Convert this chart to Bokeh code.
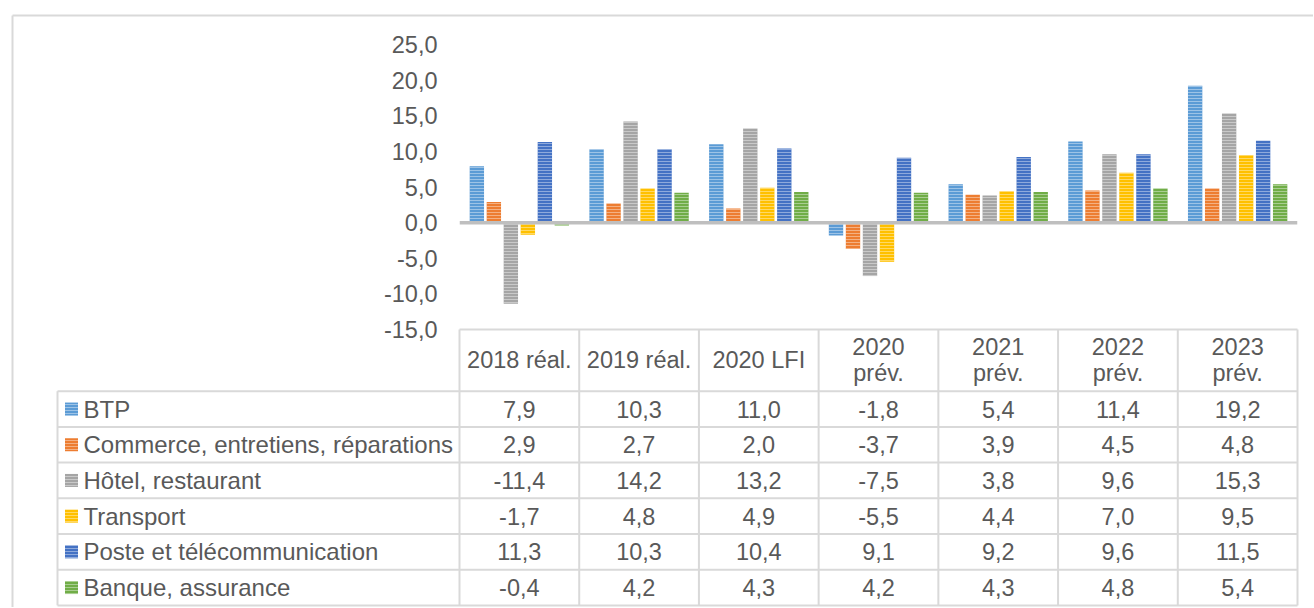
from bokeh.plotting import figure
from bokeh.models import (Range1d, Span, FixedTicker,
                          CustomJSTickFormatter, ColumnDataSource)
from bokeh.transform import dodge
from bokeh.core.properties import value
from bokeh.embed import file_html
from bokeh.resources import INLINE

# ---------------- data ----------------
categories = ["2018 réal.", "2019 réal.", "2020 LFI", "2020 prév.",
              "2021 prév.", "2022 prév.", "2023 prév."]
header_labels = ["2018 réal.", "2019 réal.", "2020 LFI", "2020\nprév.",
                 "2021\nprév.", "2022\nprév.", "2023\nprév."]
series_names = ["BTP", "Commerce, entretiens, réparations", "Hôtel, restaurant",
                "Transport", "Poste et télécommunication", "Banque, assurance"]
btp = [7.9, 10.3, 11.0, -1.8, 5.4, 11.4, 19.2]
commerce = [2.9, 2.7, 2.0, -3.7, 3.9, 4.5, 4.8]
hotel = [-11.4, 14.2, 13.2, -7.5, 3.8, 9.6, 15.3]
transport = [-1.7, 4.8, 4.9, -5.5, 4.4, 7.0, 9.5]
poste = [11.3, 10.3, 10.4, 9.1, 9.2, 9.6, 11.5]
banque = [-0.4, 4.2, 4.3, 4.2, 4.3, 4.8, 5.4]
y_ticks = [-15, -10, -5, 0, 5, 10, 15, 20, 25]

series_values = [btp, commerce, hotel, transport, poste, banque]
colors = ["#5B9BD5", "#ED7D31", "#A5A5A5", "#FFC000", "#4472C4", "#70AD47"]

# ---------------- style / layout (page pixels) ----------------
FONT = "Liberation Sans"
TXT = "#595959"
FS = "23.5px"
FS_LEG = "24px"
GRID = "#D9D9D9"

FIG_W, FIG_H = 1313, 607
FRAME_L, FRAME_R = 459, 1297
FRAME_T, FRAME_B = 44, 607
Y_MAX, Y_MIN_AXIS = 25, -15
AXIS_B = 329                      # page y of value -15 (= table top)
px_per_unit = (AXIS_B - FRAME_T) / (Y_MAX - Y_MIN_AXIS)
Y_BOTTOM = Y_MAX - (FRAME_B - FRAME_T) / px_per_unit

BAR_W = 0.12
STEP = 0.142

HATCH = dict(hatch_pattern="horizontal_line", hatch_color="white",
             hatch_alpha=0.4, hatch_scale=3, hatch_weight=1)

n = len(categories)
p = figure(width=FIG_W, height=FIG_H,
           x_range=Range1d(0, n), y_range=Range1d(Y_BOTTOM, Y_MAX),
           output_backend="svg", toolbar_location=None,
           x_axis_location=None,
           min_border_left=FRAME_L, min_border_right=FIG_W - FRAME_R,
           min_border_top=FRAME_T, min_border_bottom=FIG_H - FRAME_B,
           outline_line_color=None, background_fill_color="white",
           border_fill_color="white")
p.grid.visible = False
# pixel ranges for the table drawn below the bars
p.extra_x_ranges = {"px": Range1d(FRAME_L, FRAME_R)}
p.extra_y_ranges = {"px": Range1d(FRAME_B, FRAME_T)}

ax = p.yaxis[0]
ax.ticker = FixedTicker(ticks=y_ticks)
ax.formatter = CustomJSTickFormatter(code="return tick.toFixed(1).replace('.', ',');")
ax.axis_line_color = None
ax.major_tick_line_color = None
ax.minor_tick_line_color = None
ax.major_tick_in = 0
ax.major_tick_out = 0
ax.major_label_standoff = 22
ax.major_label_text_font = FONT
ax.major_label_text_font_size = FS
ax.major_label_text_color = TXT

# ---------------- bars ----------------
centers = [i + 0.5 for i in range(n)]      # category slot centres
data = dict(xc=centers, cat=categories)
for i, vals in enumerate(series_values):
    data[f"s{i}"] = vals
src = ColumnDataSource(data)

for i, col in enumerate(colors):
    p.vbar(x=dodge("xc", (i - 2.5) * STEP), top=f"s{i}",
           bottom=0, width=BAR_W, source=src, fill_color=col,
           line_color=None, **HATCH)

p.add_layout(Span(location=0, dimension="width", line_color="#BFBFBF",
                  line_width=3.5))

# ---------------- data table ----------------
W = (FRAME_R - FRAME_L) / n
HEAD_T = AXIS_B
HEAD_B = 390.7
ROW_H = 35.7
LEG_L = 57
SW_X = 71
LT_X = 83
nrows = len(series_names)
bottom = HEAD_B + nrows * ROW_H

x0, y0, x1, y1 = [], [], [], []
x0.append(FRAME_L); y0.append(HEAD_T); x1.append(FRAME_R); y1.append(HEAD_T)
for k in range(nrows + 1):
    yy = HEAD_B + k * ROW_H
    x0.append(LEG_L); y0.append(yy); x1.append(FRAME_R); y1.append(yy)
for j in range(n + 1):
    xx = FRAME_L + j * W
    x0.append(xx); y0.append(HEAD_T); x1.append(xx); y1.append(bottom)
x0.append(LEG_L); y0.append(HEAD_B); x1.append(LEG_L); y1.append(bottom)
p.segment(x0=x0, y0=y0, x1=x1, y1=y1, line_color=GRID, line_width=2,
          x_range_name="px", y_range_name="px", level="annotation")

# outer chart border (top and left)
p.segment(x0=[12, 12], y0=[15, 15], x1=[FIG_W, 12], y1=[15, FIG_H],
          line_color=GRID, line_width=2,
          x_range_name="px", y_range_name="px", level="annotation")

txt_style = dict(text_font=value(FONT), text_font_size=FS, text_color=TXT)

p.text(x=centers, y=[(HEAD_T + HEAD_B) / 2] * n, y_range_name="px",
       text=header_labels, text_align="center", text_baseline="middle",
       text_line_height=1.0, level="annotation", **txt_style)

for r, vals in enumerate(series_values):
    yc = HEAD_B + (r + 0.5) * ROW_H
    p.text(x=centers, y=[yc] * n, y_range_name="px",
           text=[f"{v:.1f}".replace(".", ",") for v in vals],
           text_align="center", text_baseline="middle", level="annotation",
           **txt_style)

row_y = [HEAD_B + (r + 0.5) * ROW_H for r in range(nrows)]
p.rect(x=[SW_X] * nrows, y=row_y, width=13, height=13,
       width_units="screen", height_units="screen",
       x_range_name="px", y_range_name="px", level="annotation",
       fill_color=colors, line_color=None, **HATCH)
p.text(x=[LT_X] * nrows, y=row_y, text=series_names, text_align="left",
       text_baseline="middle", x_range_name="px", y_range_name="px",
       level="annotation", text_font=value(FONT), text_font_size=FS_LEG,
       text_color=TXT)

open("out.html", "w").write(file_html(p, INLINE))
